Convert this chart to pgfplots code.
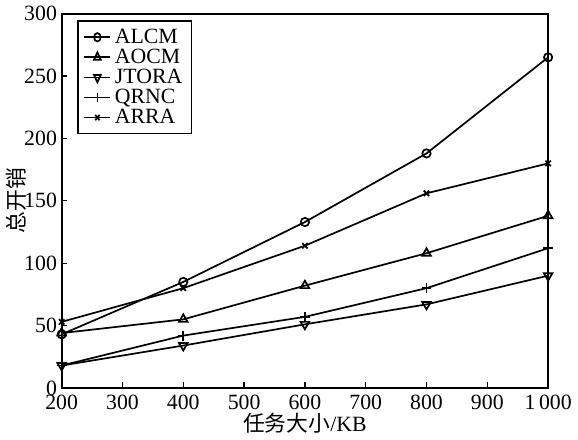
\documentclass[border=0pt]{standalone}
\usepackage{fontspec}
\setmainfont{Liberation Serif}
\newfontfamily\cjk{Noto Sans CJK SC}
\usepackage{pgfplots}
\pgfplotsset{compat=1.18}

\begin{document}
\begin{tikzpicture}
\begin{axis}[
    scale only axis,
    width=256bp, height=197bp,
    xmin=200, xmax=1000,
    ymin=0, ymax=300,
    xtick={200,300,...,1000},
    xticklabels={200,300,400,500,600,700,800,900,1\,000},
    ytick={0,50,...,300},
    tick align=inside,
    xtick pos=bottom, ytick pos=left,
    axis line style={line width=1.1pt},
    tick style={black, line width=0.7pt},
    major tick length=3bp,
    font=\fontsize{11.5}{13}\selectfont,
    /pgf/number format/assume math mode=true,
    tick label style={font=\fontsize{11.5}{13}\selectfont},
    yticklabel style={xshift=1bp},
    xlabel={{\cjk 任务大小}/KB},
    ylabel={\cjk 总开销},
    xlabel style={yshift=5bp},
    ylabel style={yshift=-8bp},
    legend style={at={(0.032,0.982)}, anchor=north west, draw=black, line width=0.7pt,
        font=\fontsize{11.5}{11}\selectfont, row sep=-2.5bp, inner xsep=3bp, inner ysep=2bp},
    legend image post style={xscale=0.8},
    legend cell align=left,
    every axis plot/.append style={black, line width=0.9pt, mark size=2.2bp,
        mark options={solid, fill=white}},
]
\addplot[mark=o] coordinates {(200,43) (400,85) (600,133) (800,188) (1000,265)};
\addlegendentry{ALCM}
\addplot[mark=triangle, mark size=2.6bp] coordinates {(200,44) (400,55) (600,82) (800,108) (1000,138)};
\addlegendentry{AOCM}
\addplot[mark=triangle, mark size=2.6bp, mark options={rotate=180}] coordinates {(200,18) (400,34) (600,51) (800,67) (1000,90)};
\addlegendentry{JTORA}
\addplot[mark=+, mark size=2.6bp] coordinates {(200,18) (400,42) (600,57) (800,80) (1000,112)};
\addlegendentry{QRNC}
\addplot[mark=x, mark size=2bp] coordinates {(200,53) (400,80) (600,114) (800,156) (1000,180)};
\addlegendentry{ARRA}
\end{axis}
\end{tikzpicture}
\end{document}
